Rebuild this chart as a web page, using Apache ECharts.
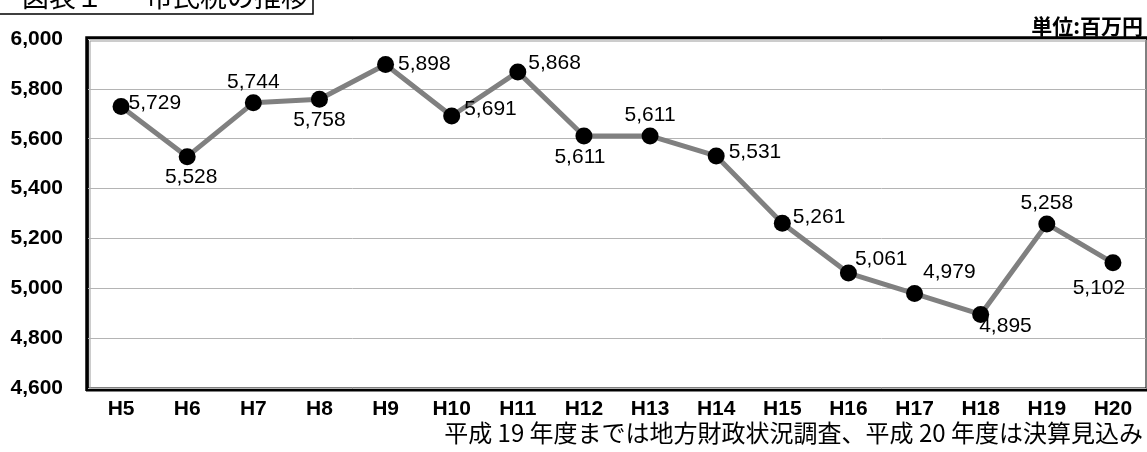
<!DOCTYPE html>
<html>
<head>
<meta charset="utf-8">
<script src="https://cdn.jsdelivr.net/npm/echarts@6/dist/echarts.min.js"></script>
<style>
  html, body { margin: 0; padding: 0; background: #fff; }
  #chart { width: 1147px; height: 452px; }
</style>
</head>
<body>
<div id="chart"></div>
<script>
// 年度 (平成)
const years = ['H5', 'H6', 'H7', 'H8', 'H9', 'H10', 'H11', 'H12', 'H13', 'H14', 'H15', 'H16', 'H17', 'H18', 'H19', 'H20'];
// 市民税 (百万円)
const taxValues = [5729, 5528, 5744, 5758, 5898, 5691, 5868, 5611, 5611, 5531, 5261, 5061, 4979, 4895, 5258, 5102];
// 各点のラベル位置
const labelPlacement = ['right', 'bottom', 'top', 'bottom', 'right', 'right', 'right', 'bottom', 'top', 'right', 'right', 'right', 'right', 'right', 'top', 'bottom'];
const labelShift = [[-3, -3], [4, 0], [0, 0], [0, 0], [2, 0], [2, -7], [0, -9], [-4, 0], [0, 0], [2, -4], [0, -6], [-4, -14], [-2, -21], [-12, 12], [0, 0], [-14, 4]];
const yTicks = { min: 4600, max: 6000, step: 200 };

const fmt = v => v.toLocaleString('en-US');
const LATIN = '"Liberation Sans", Arial, sans-serif';
const JP = '"Noto Sans CJK JP", sans-serif';

const chart = echarts.init(document.getElementById('chart'));

const seriesData = taxValues.map((v, i) => ({
  value: v,
  label: { position: labelPlacement[i], offset: labelShift[i] }
}));

chart.setOption({
  animation: false,
  backgroundColor: '#fff',
  grid: {
    left: 88, right: 1, top: 39, bottom: 64,
    show: true, borderColor: '#000', borderWidth: 1
  },
  xAxis: {
    type: 'category',
    data: years,
    boundaryGap: true,
    axisLine: { show: false },
    axisTick: { show: false },
    axisLabel: {
      margin: 11, color: '#000',
      fontFamily: LATIN, fontWeight: 'bold', fontSize: 21
    }
  },
  yAxis: {
    type: 'value',
    min: yTicks.min, max: yTicks.max, interval: yTicks.step,
    axisLine: { show: false },
    axisTick: { show: false },
    splitLine: { lineStyle: { color: '#b4b4b4', width: 1 } },
    axisLabel: {
      margin: 25, color: '#000',
      fontFamily: LATIN, fontWeight: 'bold', fontSize: 21,
      formatter: v => fmt(v)
    }
  },
  series: [{
    type: 'line',
    data: seriesData,
    symbol: 'circle',
    symbolSize: 17,
    itemStyle: { color: '#000' },
    lineStyle: { color: '#808080', width: 5 },
    label: {
      show: true, distance: 2, color: '#000',
      fontFamily: LATIN, fontSize: 21,
      formatter: p => fmt(p.value)
    }
  }],
  graphic: [
    // 見出し枠
    { type: 'polyline', shape: { points: [[0, 14], [313, 14], [313, 0]] },
      style: { stroke: '#000', lineWidth: 1.5, fill: null } },
    { type: 'text', left: 22, top: -17,
      style: { text: '図表１', font: '27px ' + JP, fill: '#000' } },
    { type: 'text', left: 146, top: -17,
      style: { text: '市民税の推移', font: '27px ' + JP, fill: '#000' } },
    // 単位
    { type: 'text', right: 4, top: 16,
      style: { text: '単位:百万円', font: 'bold 21px ' + JP, fill: '#000' } },
    // 外枠の影
    { type: 'polyline', shape: { points: [[87, 391], [87, 38], [1147, 38]] },
      style: { stroke: '#000', lineWidth: 3.5, fill: null } },
    { type: 'line', shape: { x1: 86, y1: 390, x2: 1147, y2: 390 },
      style: { stroke: '#000', lineWidth: 3 } },
    { type: 'polyline', shape: { points: [[90, 388], [90, 41], [1146, 41]] },
      style: { stroke: '#9a9a9a', lineWidth: 1, fill: null } },
    // 出典
    { type: 'text', right: 4, top: 421,
      style: { text: '平成 19 年度までは地方財政状況調査、平成 20 年度は決算見込み', font: '24px ' + JP, fill: '#000' } }
  ]
});
</script>
</body>
</html>
